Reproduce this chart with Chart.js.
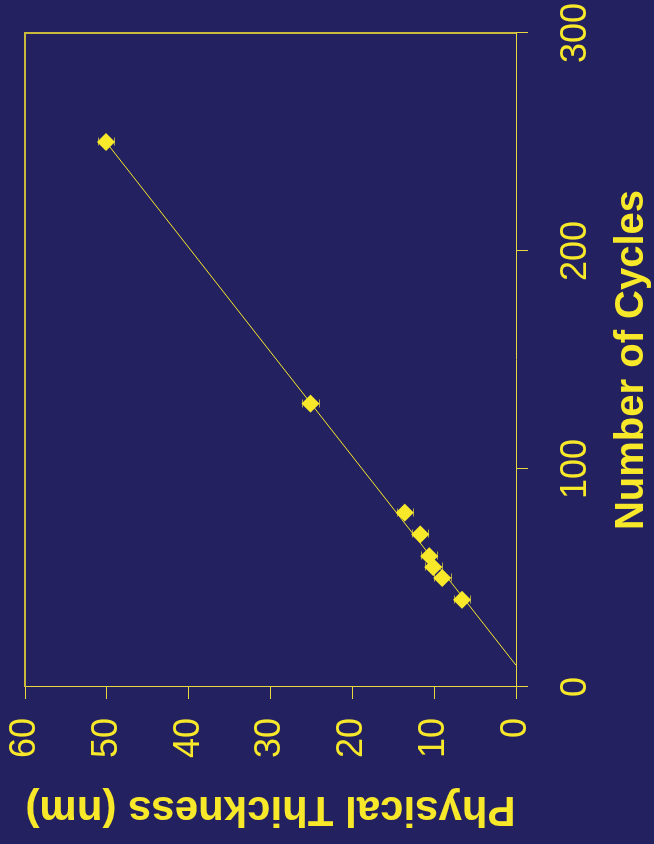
<!DOCTYPE html>
<html>
<head>
<meta charset="utf-8">
<title>Physical Thickness vs Number of Cycles</title>
<script src="https://cdn.jsdelivr.net/npm/chart.js@4/dist/chart.umd.min.js"></script>
<style>
	html, body { margin: 0; padding: 0; background: #232160; overflow: hidden; }
	body { width: 654px; height: 844px; position: relative; }
	/* the chart is laid out landscape and turned a quarter turn */
	#turn { position: absolute; left: 0; top: 0; width: 844px; height: 654px; transform-origin: 0 0; transform: translateY(844px) rotate(-90deg); }
</style>
</head>
<body>
<div id="turn"><canvas id="thickness-chartcanvas" width="844" height="654"></canvas></div>
<script>
"use strict";

// measured films
const cycles = [40, 50, 55, 60, 70, 80, 130, 250];
const thickness = [6.6, 9.0, 10.1, 10.6, 11.7, 13.6, 25.1, 50.1];
const thicknessErr = [1, 1, 1, 1, 1, 1, 1, 1];

// linear fit
const fitCycles = [10, 250];
const fitThickness = [0, 50.1];

// axis ticks
const cycleTicks = [0, 100, 200, 300];
const thicknessTicks = [0, 10, 20, 30, 40, 50, 60];

const yellow = "#f7e82a";
const axisYellow = "#e6d83e";
const fontFamily = "'Liberation Sans', Arial, sans-serif";

// vertical error bars with small caps
const errorBars = {
	id : "errorBars",
	beforeDatasetsDraw : function(chart) {
		let ctx = chart.ctx;
		let xs = chart.scales.x;
		let ys = chart.scales.y;
		ctx.save();
		ctx.strokeStyle = "rgba(232, 218, 60, 0.7)";
		ctx.lineWidth = 1;
		ctx.beginPath();
		for (let i = 0; i < cycles.length; i++) {
			let px = Math.round(xs.getPixelForValue(cycles[i])) + 0.5;
			let lo = Math.round(ys.getPixelForValue(thickness[i] - thicknessErr[i])) + 0.5;
			let hi = Math.round(ys.getPixelForValue(thickness[i] + thicknessErr[i])) + 0.5;
			ctx.moveTo(px, lo);
			ctx.lineTo(px, hi);
			ctx.moveTo(px - 4, lo);
			ctx.lineTo(px + 4, lo);
			ctx.moveTo(px - 4, hi);
			ctx.lineTo(px + 4, hi);
		}
		ctx.stroke();
		ctx.restore();
	}
};

// top and right edges of the plot box
const plotFrame = {
	id : "plotFrame",
	afterDraw : function(chart) {
		let ctx = chart.ctx;
		let a = chart.chartArea;
		ctx.save();
		ctx.strokeStyle = "#c9b93c";
		ctx.lineWidth = 2;
		ctx.beginPath();
		ctx.moveTo(a.left, a.top);
		ctx.lineTo(a.right, a.top);
		ctx.lineTo(a.right, a.bottom);
		ctx.stroke();
		ctx.restore();
	}
};

// fixed axis sizes, no extra room for overhanging labels
function fixScale(size) {
	return function(s) {
		if (s.isHorizontal()) {
			s.height = size;
		} else {
			s.width = size;
		}
		s.paddingLeft = 0;
		s.paddingRight = 0;
		s.paddingTop = 0;
		s.paddingBottom = 0;
	};
}

let points = cycles.map(function(c, i) { return { x : c, y : thickness[i] }; });
let fit = fitCycles.map(function(c, i) { return { x : c, y : fitThickness[i] }; });

let thicknessCtx = document.getElementById("thickness-chartcanvas");
let thicknessChart = new Chart(thicknessCtx, {
	type : "scatter",
	data : {
		datasets : [
			{
				label : "Thickness",
				data : points,
				pointStyle : "rectRot",
				pointRadius : 9,
				pointBorderWidth : 0,
				backgroundColor : yellow,
				borderColor : yellow
			},
			{
				label : "Fit",
				data : fit,
				showLine : true,
				pointRadius : 0,
				borderColor : yellow,
				borderWidth : 1,
				fill : false
			}
		]
	},
	options : {
		responsive : false,
		animation : false,
		layout : {
			padding : { left : 0, top : 25, right : 33, bottom : 0 }
		},
		plugins : {
			legend : { display : false },
			tooltip : { enabled : false }
		},
		scales : {
			x : {
				type : "linear",
				min : 0,
				max : 300,
				afterBuildTicks : function(s) { s.ticks = cycleTicks.map(function(v) { return { value : v }; }); },
				afterFit : fixScale(138),
				border : { display : true, color : axisYellow, width : 1 },
				grid : { display : true, drawOnChartArea : false, drawTicks : true, tickLength : 12, color : axisYellow },
				ticks : { color : yellow, padding : 26, maxRotation : 0, font : { family : fontFamily, size : 36 } },
				title : {
					display : true,
					text : "Number of Cycles",
					color : yellow,
					padding : 0,
					font : { family : fontFamily, size : 40, weight : "bold", lineHeight : 1.1 }
				}
			},
			y : {
				type : "linear",
				min : 0,
				max : 60,
				afterBuildTicks : function(s) { s.ticks = thicknessTicks.map(function(v) { return { value : v }; }); },
				afterFit : fixScale(157),
				border : { display : true, color : axisYellow, width : 1 },
				grid : { display : true, drawOnChartArea : false, drawTicks : true, tickLength : 12, color : axisYellow },
				ticks : { color : yellow, padding : 19, font : { family : fontFamily, size : 36 } },
				title : {
					display : true,
					text : "Physical Thickness (nm)",
					color : yellow,
					padding : { top : 10, bottom : 0 },
					font : { family : fontFamily, size : 42, weight : "bold", lineHeight : 1.2 }
				}
			}
		}
	},
	plugins : [errorBars, plotFrame]
});
</script>
</body>
</html>
